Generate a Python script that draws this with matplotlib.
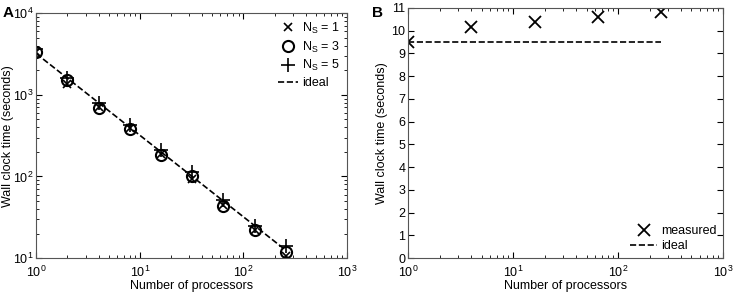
import numpy as np
import matplotlib.pyplot as plt

plt.rcParams['font.family'] = ['Liberation Sans', 'DejaVu Sans']
plt.rcParams['font.size'] = 9

# panel A: strong scaling
procs_a = [1, 2, 4, 8, 16, 32, 64, 128, 256]
ns1 = [3300, 1350, 700, 390, 190, 92, 45, 22, 10.5]
ns3 = [3300, 1500, 690, 380, 185, 100, 44, 22, 12]
ns5 = [3600, 1600, 800, 430, 210, 115, 52, 25, 14]
ideal_a = [3200 / p for p in procs_a]

# panel B: weak scaling
procs_b = [1, 4, 16, 64, 256]
measured_b = [9.5, 10.15, 10.4, 10.62, 10.82]
ideal_b = [9.5, 9.5]
ideal_b_x = [1, 256]

fig = plt.figure(figsize=(7.37, 2.92), dpi=100)
ax1 = fig.add_axes([0.049, 0.116, 0.422, 0.839])
ax2 = fig.add_axes([0.554, 0.116, 0.427, 0.857])

ax1.plot(procs_a, ns1, 'x', color='k', ms=6, mew=1.2, label='N$_\\mathregular{S}$ = 1')
ax1.plot(procs_a, ns3, 'o', color='k', mfc='none', ms=8, mew=1.5, label='N$_\\mathregular{S}$ = 3')
ax1.plot(procs_a, ns5, '+', color='k', ms=10, mew=1.2, label='N$_\\mathregular{S}$ = 5')
ax1.plot(procs_a, ideal_a, '--', color='k', lw=1.2, label='ideal')
ax1.set_xscale('log')
ax1.set_yscale('log')
ax1.set_xlim(1, 1000)
ax1.set_ylim(10, 10000)
ax1.set_xlabel('Number of processors', labelpad=0)
ax1.set_ylabel('Wall clock time (seconds)')
ax1.yaxis.set_label_coords(-0.072, 0.5)
ax1.legend(loc='upper right', frameon=False, handlelength=1.6, handletextpad=0.3,
           labelspacing=0.3, borderaxespad=0.2)

ax2.plot(procs_b, measured_b, 'x', color='k', ms=9, mew=1.3, label='measured')
ax2.plot(ideal_b_x, ideal_b, '--', color='k', lw=1.2, label='ideal')
ax2.set_xscale('log')
ax2.set_xlim(1, 1000)
ax2.set_ylim(0, 11)
ax2.set_yticks(range(0, 12))
ax2.set_xlabel('Number of processors', labelpad=0)
ax2.set_ylabel('Wall clock time (seconds)')
ax2.yaxis.set_label_coords(-0.063, 0.5)
ax2.legend(loc='lower right', frameon=False, handlelength=2.2, handletextpad=0.3,
           labelspacing=0.2, borderaxespad=0.1)

for ax in (ax1, ax2):
    ax.tick_params(which='both', direction='in', top=True, right=True)
    ax.tick_params(axis='y', pad=2)
    ax.tick_params(axis='x', pad=5)
    ax.tick_params(which='major', length=4)
    ax.tick_params(which='minor', length=2)
    for s in ax.spines.values():
        s.set_color('#555555')

fig.text(0.003, 0.955, 'A', fontsize=11, fontweight='bold', va='center')
fig.text(0.505, 0.955, 'B', fontsize=11, fontweight='bold', va='center')

fig.savefig('out.png', dpi=100)
